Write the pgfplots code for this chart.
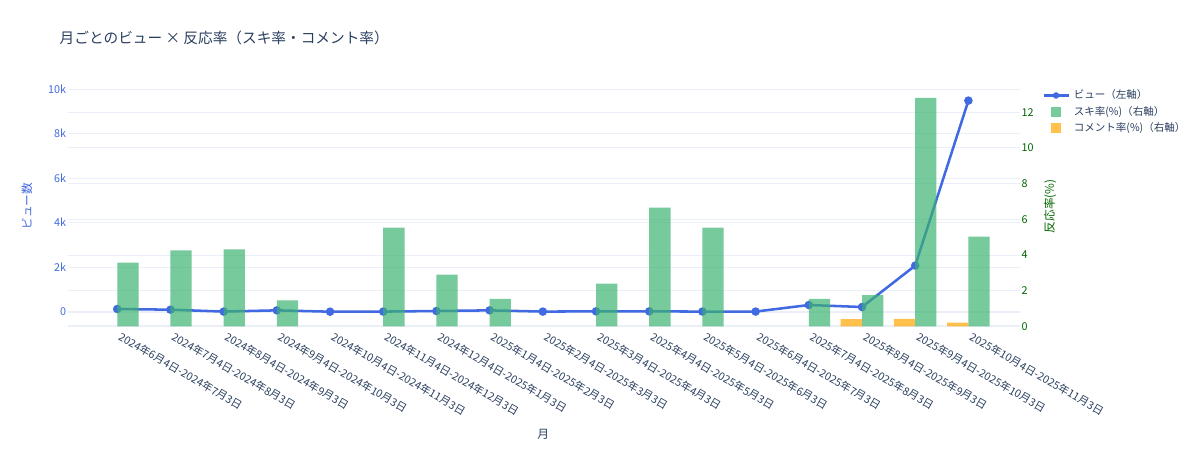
\documentclass[border=0pt]{standalone}
\usepackage{fontspec}
\setmainfont{Noto Sans CJK JP}
\usepackage{pgfplots}
\pgfplotsset{compat=1.18}
\definecolor{royalblue}{RGB}{65,105,225}
\definecolor{msgreen}{RGB}{60,179,113}
\definecolor{orangec}{RGB}{255,165,0}
\definecolor{darkgreenc}{RGB}{0,100,0}
\definecolor{txt}{HTML}{2A3F5F}
\definecolor{gridc}{HTML}{EBF0F8}
\pgfplotsset{
  myax/.style={
    scale only axis, width=713.8pt, height=180.375pt,
    at={(51.2pt,92.625pt)}, anchor=south west,
    xmin=-0.921, xmax=16.97,
    axis line style={draw=none}, major tick length=0pt,
    /pgf/number format/assume math mode=true,
    scaled y ticks=false,
    ticklabel style={font=\fontsize{8.1}{9}\selectfont},
    ymajorgrids, grid style={gridc, line width=0.75pt},
    extra tick style={grid style={gridc, line width=1.5pt}},
    set layers,
  }
}
\begin{document}
\begin{tikzpicture}
\path (0pt,0pt) rectangle (900pt,337.5pt);
\node[anchor=west, text=txt, font=\fontsize{11}{13}\selectfont, inner sep=0pt] at (44.6pt,309.2pt) {月ごとのビュー × 反応率（スキ率・コメント率）};

\begin{axis}[myax,
  ymin=-665, ymax=10135,
  ytick={0,2000,4000,6000,8000,10000},
  yticklabels={0,2k,4k,6k,8k,10k},
  extra y ticks={0}, extra y tick labels={},
  yticklabel style={text=royalblue, anchor=east, inner sep=1.5pt},
  xtick={0,...,16},
  xticklabels={2024年6月4日-2024年7月3日,2024年7月4日-2024年8月3日,2024年8月4日-2024年9月3日,2024年9月4日-2024年10月3日,2024年10月4日-2024年11月3日,2024年11月4日-2024年12月3日,2024年12月4日-2025年1月3日,2025年1月4日-2025年2月3日,2025年2月4日-2025年3月3日,2025年3月4日-2025年4月3日,2025年4月4日-2025年5月3日,2025年5月4日-2025年6月3日,2025年6月4日-2025年7月3日,2025年7月4日-2025年8月3日,2025年8月4日-2025年9月3日,2025年9月4日-2025年10月3日,2025年10月4日-2025年11月3日},
  xticklabel style={xshift=3.6pt, yshift=-3.6pt, rotate=-30, anchor=north west, text=txt, inner sep=0pt},
  ylabel={ビュー数},
  ylabel style={text=royalblue, font=\fontsize{8.8}{10}\selectfont, at={(axis description cs:-0.0434,0.5)}, anchor=center},
  xlabel={月},
  xlabel style={text=txt, font=\fontsize{8.8}{10}\selectfont, at={(axis description cs:0.499,0)}, anchor=center, yshift=-80.6pt},
]
\addplot[royalblue, line width=1.9pt, mark=*, mark size=2.2pt, mark options={fill=royalblue, draw=royalblue}] coordinates {
(0,120) (1,90) (2,5) (3,60) (4,0) (5,5) (6,30) (7,60) (8,5) (9,15) (10,15) (11,5) (12,5) (13,300) (14,210) (15,2070) (16,9480)
};
\end{axis}

\begin{axis}[myax,
  ymin=0, ymax=13.47,
  ytick={0,2,4,6,8,10,12},
  extra y ticks={0}, extra y tick labels={},
  yticklabel pos=right,
  yticklabel style={text=darkgreenc, anchor=west, inner sep=1pt},
  xtick=\empty,
  ylabel={反応率(\%)},
  ylabel style={text=darkgreenc, font=\fontsize{8.8}{10}\selectfont, at={(axis description cs:1.0315,0.5)}, anchor=center},
  legend style={at={(rel axis cs:1.0231,0.9875)}, anchor=north west, draw=none, fill=none,
    font=\fontsize{7.9}{9}\selectfont, text=txt, inner sep=0pt, row sep=3pt,
    nodes={inner sep=0pt, text height=7pt, text depth=2.3pt}},
  legend cell align=left,
]
\addlegendimage{legend image code/.code={
  \draw[royalblue, line width=1.9pt] (0pt,0pt) -- (18.75pt,0pt);
  \fill[royalblue] (9.4pt,0pt) circle (2.2pt);
  \path (22.5pt,0pt);
}}
\addlegendentry{ビュー（左軸）}
\addplot[ybar, bar width=0.4, bar shift=0.2, fill=msgreen, fill opacity=0.7, draw=none,
  legend image code/.code={\fill[msgreen, fill opacity=0.7] (5.6pt,-3.75pt) rectangle (13.1pt,3.75pt); \path (0pt,0pt) (22.5pt,0pt);}]
coordinates {
(0,3.58) (1,4.27) (2,4.32) (3,1.46) (5,5.54) (6,2.90) (7,1.55) (9,2.40) (10,6.66) (11,5.54) (13,1.55) (14,1.76) (15,12.80) (16,5.04)
};
\addlegendentry{スキ率(\%)（右軸）}
\addplot[ybar, bar width=0.4, bar shift=-0.2, fill=orangec, fill opacity=0.7, draw=none,
  legend image code/.code={\fill[orangec, fill opacity=0.7] (5.6pt,-3.75pt) rectangle (13.1pt,3.75pt); \path (0pt,0pt) (22.5pt,0pt);}]
coordinates {
(14,0.41) (15,0.42) (16,0.21)
};
\addlegendentry{コメント率(\%)（右軸）}
\end{axis}
\end{tikzpicture}
\end{document}
